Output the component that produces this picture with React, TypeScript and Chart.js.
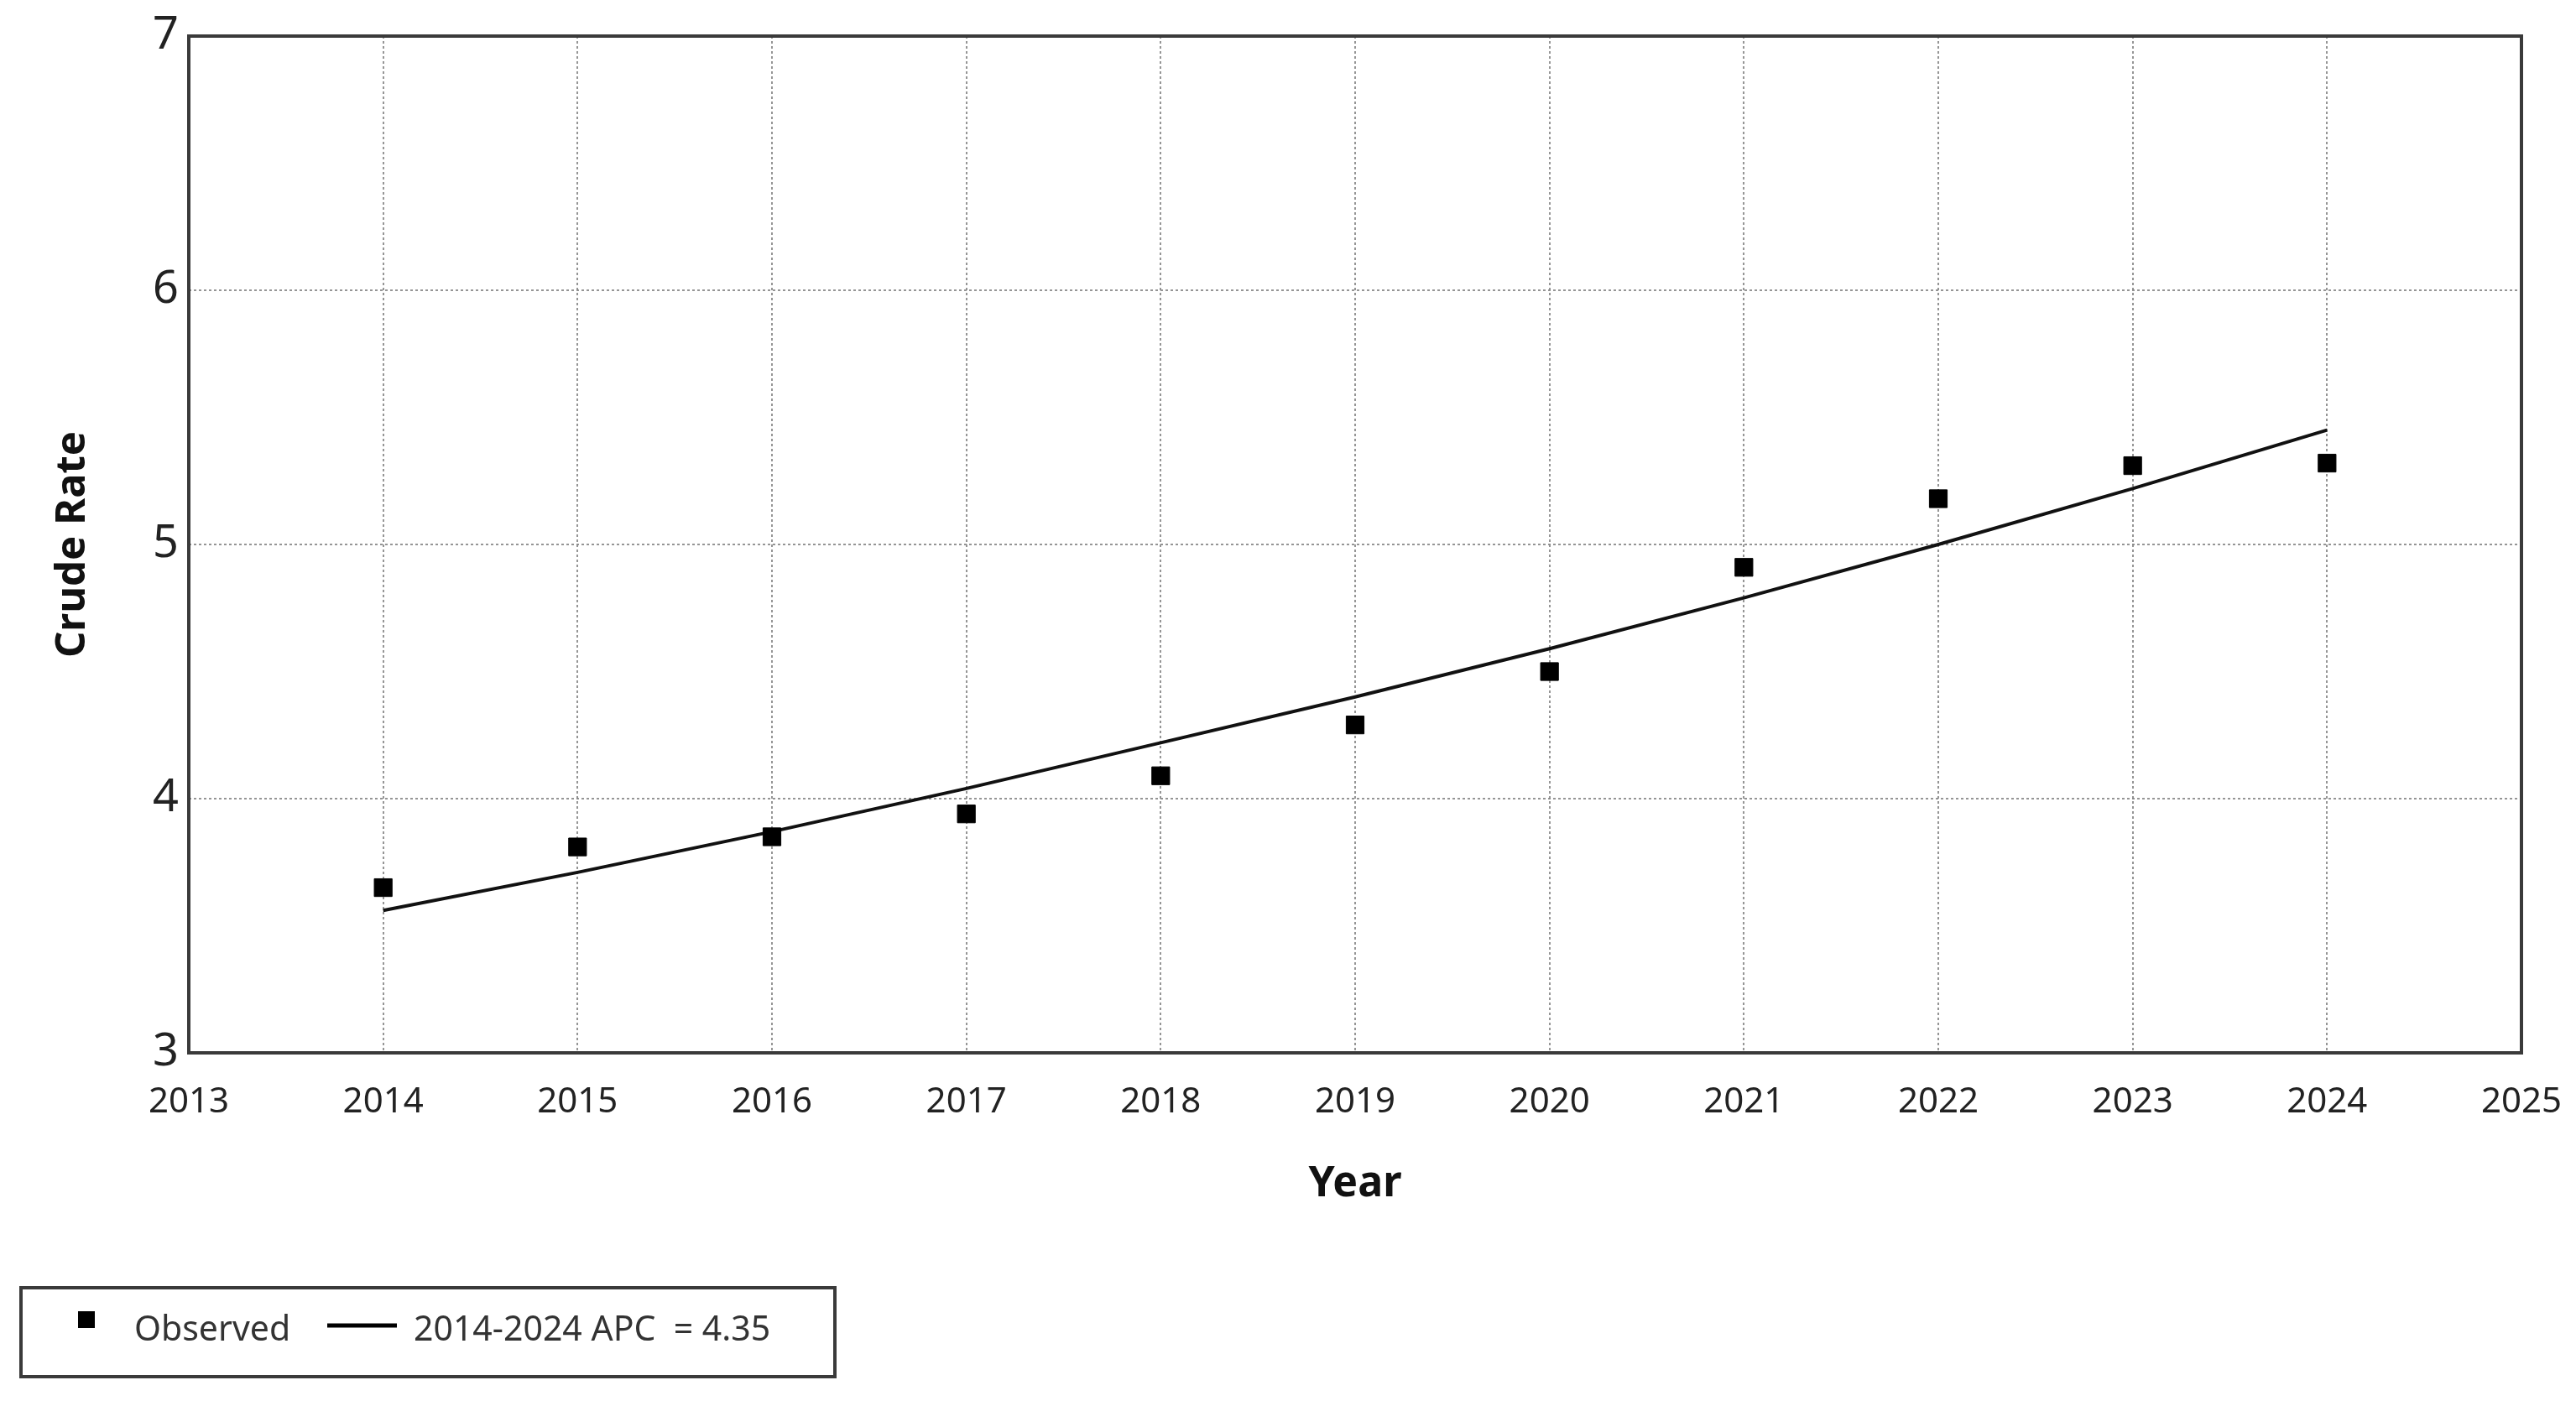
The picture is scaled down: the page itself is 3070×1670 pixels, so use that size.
import React, { useEffect, useRef } from "react";
import { Chart, registerables } from "chart.js";

Chart.register(...registerables);

const years = [2014, 2015, 2016, 2017, 2018, 2019, 2020, 2021, 2022, 2023, 2024];
const observedRate = [3.65, 3.81, 3.85, 3.94, 4.09, 4.29, 4.5, 4.91, 5.18, 5.31, 5.32];
const fittedRate = [3.56, 3.71, 3.87, 4.04, 4.22, 4.4, 4.59, 4.79, 5.0, 5.22, 5.45];
const xTicks = [2013, 2014, 2015, 2016, 2017, 2018, 2019, 2020, 2021, 2022, 2023, 2024, 2025];
const yTicks = [3, 4, 5, 6, 7];
const xTitle = "Year";
const yTitle = "Crude Rate";
const legendObserved = "Observed";
const legendFit = "2014-2024 APC  = 4.35";

const W = 3070;
const H = 1670;
const FONT = '"Noto Sans", "Open Sans", sans-serif';

const framePlugin = {
  id: "frame",
  afterDraw(chart: any) {
    const { ctx, chartArea } = chart;
    ctx.save();
    ctx.strokeStyle = "#3a3a3a";
    ctx.lineWidth = 4;
    ctx.setLineDash([]);
    ctx.strokeRect(chartArea.left, chartArea.top, chartArea.right - chartArea.left, chartArea.bottom - chartArea.top);
    ctx.restore();
  },
};

const legendPlugin = {
  id: "customLegend",
  afterDraw(chart: any) {
    const { ctx } = chart;
    ctx.save();
    ctx.strokeStyle = "#3a3a3a";
    ctx.lineWidth = 4;
    ctx.strokeRect(25, 1535, 970, 106);
    ctx.fillStyle = "#000";
    ctx.fillRect(93, 1563, 20, 20);
    ctx.font = `41px ${FONT}`;
    ctx.fillStyle = "#333";
    ctx.textBaseline = "middle";
    ctx.textAlign = "left";
    ctx.fillText(legendObserved, 160, 1586);
    ctx.strokeStyle = "#000";
    ctx.lineWidth = 5;
    ctx.beginPath();
    ctx.moveTo(390, 1580);
    ctx.lineTo(473, 1580);
    ctx.stroke();
    ctx.fillText(legendFit, 493, 1586);
    ctx.restore();
  },
};

export default function App() {
  const canvasRef = useRef<HTMLCanvasElement | null>(null);

  useEffect(() => {
    const canvas = canvasRef.current;
    if (!canvas) return;
    const chart = new Chart(canvas, {
      type: "line",
      data: {
        datasets: [
          {
            type: "line",
            label: legendFit,
            data: years.map((y, i) => ({ x: y, y: fittedRate[i] })),
            borderColor: "#111",
            borderWidth: 4,
            pointRadius: 0,
            tension: 0,
            fill: false,
            order: 2,
          },
          {
            type: "scatter",
            label: legendObserved,
            data: years.map((y, i) => ({ x: y, y: observedRate[i] })),
            pointStyle: "rect",
            pointRadius: 15,
            backgroundColor: "#000",
            borderColor: "#000",
            borderWidth: 1,
            showLine: false,
            order: 1,
          },
        ],
      },
      options: {
        responsive: false,
        animation: false,
        devicePixelRatio: 1,
        layout: { padding: { left: 0, top: 43, right: 65, bottom: 210 } },
        plugins: {
          legend: { display: false },
          tooltip: { enabled: false },
        },
        scales: {
          x: {
            type: "linear",
            min: 2013,
            max: 2025,
            afterBuildTicks: (s: any) => {
              s.ticks = xTicks.map((v) => ({ value: v }));
            },
            afterFit: (s: any) => {
              s.height = 205;
              s.paddingLeft = 0;
              s.paddingRight = 0;
            },
            grid: { color: "rgba(130,130,130,0.85)", lineWidth: 2, drawTicks: false },
            border: { display: false, dash: [3, 3] },
            ticks: {
              padding: 34,
              autoSkip: false,
              maxRotation: 0,
              color: "#222",
              font: { family: FONT, size: 42 },
              callback: (v: any) => String(v),
            },
            title: {
              display: true,
              text: xTitle,
              color: "#111",
              font: { family: FONT, size: 50, weight: "bold" },
              padding: { top: 0, bottom: 18 },
            },
          },
          y: {
            type: "linear",
            min: 3,
            max: 7,
            afterBuildTicks: (s: any) => {
              s.ticks = yTicks.map((v) => ({ value: v }));
            },
            afterFit: (s: any) => {
              s.width = 225;
              s.paddingTop = 0;
              s.paddingBottom = 0;
            },
            grid: { color: "rgba(130,130,130,0.85)", lineWidth: 2, drawTicks: false },
            border: { display: false, dash: [3, 3] },
            ticks: {
              padding: 12,
              color: "#222",
              font: { family: FONT, size: 54 },
              callback: (v: any) => String(v),
            },
            title: {
              display: true,
              text: yTitle,
              color: "#111",
              font: { family: FONT, size: 49, weight: "bold" },
              padding: { top: 58, bottom: 0 },
            },
          },
        },
      },
      plugins: [framePlugin, legendPlugin],
    });
    return () => chart.destroy();
  }, []);

  return (
    <div style={{ position: "fixed", left: 0, top: 0, width: W, height: H, background: "#fff" }}>
      <canvas ref={canvasRef} width={W} height={H} style={{ display: "block", width: W, height: H }} />
    </div>
  );
}
